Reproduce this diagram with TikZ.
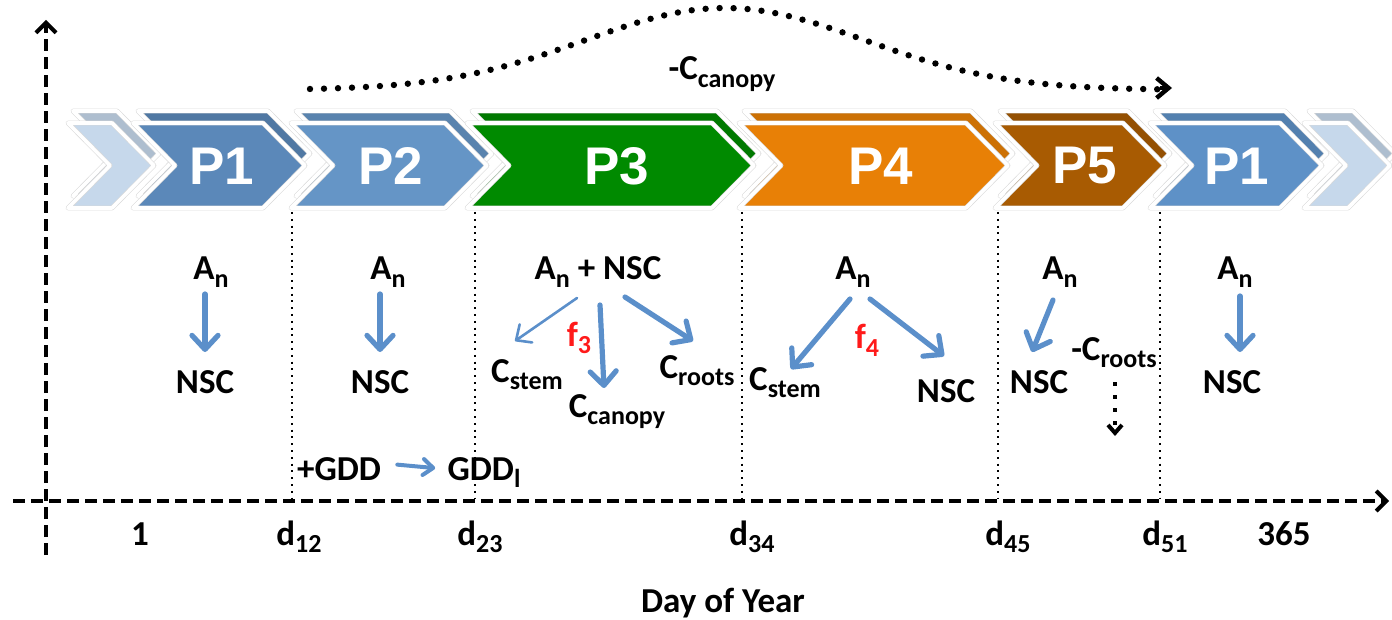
\documentclass[tikz,border=0pt]{standalone}
\usepackage{fontspec}
\usepackage{graphicx}
\setmainfont{Carlito}
\newfontfamily\arialb{Liberation Sans}
\usetikzlibrary{arrows.meta,calc}
\definecolor{lightchev}{HTML}{C6D8EB}
\definecolor{pone}{HTML}{5B88B9}
\definecolor{ptwo}{HTML}{6595C6}
\definecolor{pthree}{HTML}{008A00}
\definecolor{pfour}{HTML}{E88006}
\definecolor{pfive}{HTML}{A85B02}
\definecolor{ponebis}{HTML}{5E91C7}
\definecolor{arrowblue}{HTML}{5B8FCA}
\definecolor{fred}{HTML}{FF1A1A}
\newcommand\sbs[1]{\raisebox{-3.6pt}{\fontsize{13}{13}\selectfont #1}}
\newcommand\chevron[3]{%
  \draw[chevline, fill=#3!88!black, shift={(5,-12)}]
    (#1,123) -- (#2,123) -- ({#2+42},165.5) -- (#2,208) -- (#1,208) -- ({#1+42},165.5) -- cycle;
  \draw[chevline, fill=#3]
    (#1,123) -- (#2,123) -- ({#2+42},165.5) -- (#2,208) -- (#1,208) -- ({#1+42},165.5) -- cycle;}
\begin{document}
\begin{tikzpicture}[x=0.5pt,y=-0.5pt,
  chevline/.style={draw=gray!30, line width=0.3pt, double=white, double distance=1.8pt, line join=round},
  plab/.style={font=\arialb\bfseries\fontsize{26.5}{30}\selectfont, text=white, inner sep=0pt},
  lab/.style={font=\bfseries\fontsize{17.5}{20}\selectfont, inner sep=0pt, anchor=base},
  redlab/.style={lab, text=fred},
  axisline/.style={line width=2pt, dash pattern=on 6pt off 3pt, -{Straight Barb[length=5pt,width=10pt]}},
  vdot/.style={line width=1pt, dash pattern=on 1pt off 2.4pt},
  barrow/.style={draw=arrowblue, line width=2.6pt, line cap=round, -{Straight Barb[length=7pt,width=13pt,line cap=round,line join=round]}},
  tharrow/.style={draw=arrowblue, line width=1.3pt, line cap=round, -{Straight Barb[length=6pt,width=11pt,line cap=round,line join=round]}},
  garrow/.style={draw=arrowblue, line width=2pt, line cap=round, -{Straight Barb[length=5pt,width=8pt,line cap=round,line join=round]}}
]
\useasboundingbox (0,0) rectangle (1392,620);

% axes
\coordinate (xs) at (13,501);
\coordinate (xe) at (1389,501);
\coordinate (ys) at (46,555);
\coordinate (ye) at (46,20);
\draw[axisline] (xs) -- (xe);
\draw[axisline] (ys) -- (ye);

% dotted boundaries
\foreach \xx/\nm in {292/a,475/b,742/c,998/d,1160/e}{
  \coordinate (t\nm) at (\xx,212);
  \coordinate (b\nm) at (\xx,498);
  \draw[vdot] (t\nm) -- (b\nm);
}

% chevrons
\chevron{68}{112}{lightchev}
\chevron{1304}{1348}{lightchev}
\chevron{133}{263}{pone}
\chevron{291}{445}{ptwo}
\chevron{467}{712}{pthree}
\chevron{739}{966}{pfour}
\chevron{995}{1123}{pfive}
\chevron{1150}{1280}{ponebis}

\node[plab] (P1) at (222,166) {P1};
\node[plab] (P2) at (391,166) {P2};
\node[plab] (P3) at (617,166) {P3};
\node[plab] (P4) at (881,166) {P4};
\node[plab] (P5) at (1085,166) {P5};
\node[plab] (P6) at (1237,166) {P1};

% top curve
\coordinate (cs) at (310,90);
\coordinate (ce) at (1172,88);
\draw[line width=3.2pt, line cap=round, dash pattern=on 0pt off 7pt]
  plot[domain=310:1160, samples=90] (\x, {90-82*exp(-((\x-725)/140)^2/2)});
\draw[line width=2.2pt, -{Straight Barb[length=6pt,width=10pt]}] (1160,88) -- (ce);
\node[lab] (topC) at (722,80) {-C\sbs{canopy}};

% P1
\node[lab] (An1) at (211,280) {A\sbs{n}};
\node[lab] (N1) at (205,393) {NSC};
\coordinate (a1s) at (205,294); \coordinate (a1e) at (205,352);
\draw[barrow] (a1s) -- (a1e);

% P2
\node[lab] (An2) at (388,280) {A\sbs{n}};
\node[lab] (N2) at (380,393) {NSC};
\coordinate (a2s) at (380,294); \coordinate (a2e) at (380,352);
\draw[barrow] (a2s) -- (a2e);

% P3
\node[lab] (An3) at (598,280) {A\sbs{n} + NSC};
\node[lab] (Cs3) at (527,382) {C\sbs{stem}};
\node[lab] (Cc3) at (617,417) {C\sbs{canopy}};
\node[lab] (Cr3) at (697,378) {C\sbs{roots}};
\node[redlab] (f3) at (579,346) {f\sbs{3}};
\coordinate (a3s) at (577,298); \coordinate (a3e) at (515,341);
\draw[tharrow] (a3s) -- (a3e);
\coordinate (b3s) at (600,305); \coordinate (b3e) at (604,388);
\draw[barrow] (b3s) -- (b3e);
\coordinate (c3s) at (625,297); \coordinate (c3e) at (693,341);
\draw[barrow] (c3s) -- (c3e);

% P4
\node[lab] (An4) at (853,280) {A\sbs{n}};
\node[lab] (Cs4) at (785,390) {C\sbs{stem}};
\node[lab] (N4) at (946,402) {NSC};
\node[redlab] (f4) at (867,349) {f\sbs{4}};
\coordinate (a4s) at (850,299); \coordinate (a4e) at (791,369);
\draw[barrow] (a4s) -- (a4e);
\coordinate (b4s) at (870,299); \coordinate (b4e) at (944,356);
\draw[barrow] (b4s) -- (b4e);

% P5
\node[lab] (An5) at (1060,280) {A\sbs{n}};
\node[lab] (N5) at (1039,393) {NSC};
\node[lab] (Cr5) at (1114,360) {-C\sbs{roots}};
\coordinate (a5s) at (1053,300); \coordinate (a5e) at (1032,352);
\draw[barrow] (a5s) -- (a5e);
\coordinate (d5s) at (1115,382); \coordinate (d5e) at (1115,436);
\draw[line width=2pt, dash pattern=on 2pt off 4.5pt, -{Straight Barb[length=4pt,width=7pt]}] (d5s) -- (d5e);

% P1 again
\node[lab] (An6) at (1235,280) {A\sbs{n}};
\node[lab] (N6) at (1232,393) {NSC};
\coordinate (a6s) at (1240,296); \coordinate (a6e) at (1240,352);
\draw[barrow] (a6s) -- (a6e);

% GDD
\node[lab] (g1) at (339,480) {+GDD};
\node[lab] (g2) at (484,480) {GDD\sbs{l}};
\draw[garrow] (g1.east) ++(16,-4) coordinate (gs) -- ($(g2.west)+(-12,-4)$);

% ticks
\node[lab] (t1) at (140,545) {1};
\node[lab] (t12) at (299,545) {d\sbs{12}};
\node[lab] (t23) at (480,545) {d\sbs{23}};
\node[lab] (t34) at (752,545) {d\sbs{34}};
\node[lab] (t45) at (1008,545) {d\sbs{45}};
\node[lab] (t51) at (1165,545) {d\sbs{51}};
\node[lab] (t365) at (1284,545) {365};
\node[lab] (xl) at (723,612) {Day of Year};
\end{tikzpicture}
\end{document}
